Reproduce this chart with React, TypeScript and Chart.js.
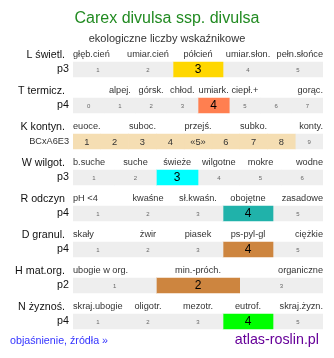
import React, { useEffect, useRef } from 'react';
import { Chart, registerables } from 'chart.js';

Chart.register(...registerables);

const TITLE = 'Carex divulsa ssp. divulsa';
const SUBTITLE = 'ekologiczne liczby wskaźnikowe';
const LINK_TEXT = 'objaśnienie, źródła »';
const SITE_TEXT = 'atlas-roslin.pl';

const rowNames = ['L świetl.', 'T termicz.', 'K kontyn.', 'W wilgot.', 'R odczyn', 'D granul.', 'H mat.org.', 'N żyznoś.'];
const rowValues = ['p3', 'p4', 'BCxA6E3', 'p3', 'p4', 'p4', 'p2', 'p4'];

const cellsL = ['1', '2', '3', '4', '5'];
const cellsT = ['0', '1', '2', '3', '4', '5', '6', '7'];
const cellsK = ['1', '2', '3', '4', '«5»', '6', '7', '8', '9'];
const cellsW = ['1', '2', '3', '4', '5', '6'];
const cellsR = ['1', '2', '3', '4', '5'];
const cellsD = ['1', '2', '3', '4', '5'];
const cellsH = ['1', '2', '3'];
const cellsN = ['1', '2', '3', '4', '5'];
const rowCells = [cellsL, cellsT, cellsK, cellsW, cellsR, cellsD, cellsH, cellsN];

// highlighted cell indices per row
const highlightL = [2];
const highlightT = [4];
const highlightK = [0, 1, 2, 3, 4, 5, 6, 7];
const highlightW = [2];
const highlightR = [3];
const highlightD = [3];
const highlightH = [1];
const highlightN = [3];
const rowHighlights = [highlightL, highlightT, highlightK, highlightW, highlightR, highlightD, highlightH, highlightN];

const rowColors = ['#FFD700', '#FF7F50', '#F5DEB3', '#00FFFF', '#20B2AA', '#CD853F', '#CD853F', '#00FF00'];

// category labels: [cell index, text]
const labelsL: [number, string][] = [[0, 'głęb.cień'], [1, 'umiar.cień'], [2, 'półcień'], [3, 'umiar.słon.'], [4, 'pełn.słońce']];
const labelsT: [number, string][] = [[1, 'alpej.'], [2, 'górsk.'], [3, 'chłod.'], [4, 'umiark.'], [5, 'ciepł.+'], [7, 'gorąc.']];
const labelsK: [number, string][] = [[0, 'euoce.'], [2, 'suboc.'], [4, 'przejś.'], [6, 'subko.'], [8, 'konty.']];
const labelsW: [number, string][] = [[0, 'b.suche'], [1, 'suche'], [2, 'świeże'], [3, 'wilgotne'], [4, 'mokre'], [5, 'wodne']];
const labelsR: [number, string][] = [[0, 'pH <4'], [1, 'kwaśne'], [2, 'sł.kwaśn.'], [3, 'obojętne'], [4, 'zasadowe']];
const labelsD: [number, string][] = [[0, 'skały'], [1, 'żwir'], [2, 'piasek'], [3, 'ps-pyl-gl'], [4, 'ciężkie']];
const labelsH: [number, string][] = [[0, 'ubogie w org.'], [1, 'min.-próch.'], [2, 'organiczne']];
const labelsN: [number, string][] = [[0, 'skraj.ubogie'], [1, 'oligotr.'], [2, 'mezotr.'], [3, 'eutrof.'], [4, 'skraj.żyzn.']];
const rowLabels = [labelsL, labelsT, labelsK, labelsW, labelsR, labelsD, labelsH, labelsN];

const FONT = '"Liberation Sans", Arial, sans-serif';
const GRAY = '#EEEEEE';

export default function App() {
  const ref = useRef<HTMLCanvasElement>(null);

  useEffect(() => {
    if (!ref.current) return;
    const maxCells = Math.max(...rowCells.map((c) => c.length));
    const datasets = [];
    for (let j = 0; j < maxCells; j++) {
      datasets.push({
        data: rowCells.map((cells) => (j < cells.length ? [j / cells.length, (j + 1) / cells.length] : null)),
        backgroundColor: rowCells.map((cells, i) => (rowHighlights[i].includes(j) ? rowColors[i] : GRAY)),
        borderWidth: 0,
        barThickness: 15,
        grouped: false,
      });
    }

    const textPlugin = {
      id: 'texts',
      afterDatasetsDraw(chart: any) {
        const ctx = chart.ctx;
        const xs = chart.scales.x;
        const ys = chart.scales.y;
        const left = xs.getPixelForValue(0);
        const right = xs.getPixelForValue(1);
        ctx.save();
        ctx.textBaseline = 'middle';
        // header
        ctx.textAlign = 'center';
        ctx.fillStyle = '#228B22';
        ctx.font = `16px ${FONT}`;
        ctx.fillText(TITLE, chart.width / 2, 19);
        ctx.fillStyle = '#333333';
        ctx.font = `11px ${FONT}`;
        ctx.fillText(SUBTITLE, chart.width / 2, 38.5);

        rowNames.forEach((name, i) => {
          const cy = ys.getPixelForValue(i);
          const top = cy - 7.5;
          const ly = top - 7.3;
          // row name
          ctx.textAlign = 'right';
          ctx.fillStyle = '#111111';
          ctx.font = `10.7px ${FONT}`;
          ctx.fillText(name, left - 8, ly);
          // value
          const v = rowValues[i];
          ctx.font = v.length > 3 ? `9.2px ${FONT}` : `10.7px ${FONT}`;
          ctx.fillStyle = v.length > 3 ? '#333333' : '#111111';
          ctx.fillText(v, left - 4, cy);
          // category labels
          const cells = rowCells[i];
          const n = cells.length;
          ctx.font = `9.2px ${FONT}`;
          ctx.fillStyle = '#333333';
          rowLabels[i].forEach(([idx, text]) => {
            if (idx === 0) {
              ctx.textAlign = 'left';
              ctx.fillText(text, left, ly);
            } else if (idx === n - 1) {
              ctx.textAlign = 'right';
              ctx.fillText(text, right, ly);
            } else {
              ctx.textAlign = 'center';
              ctx.fillText(text, xs.getPixelForValue((idx + 0.5) / n), ly);
            }
          });
          // cell numbers
          ctx.textAlign = 'center';
          const hl = rowHighlights[i];
          cells.forEach((c, j) => {
            const x = xs.getPixelForValue((j + 0.5) / n);
            if (hl.includes(j)) {
              if (hl.length > 1) {
                ctx.font = `9.3px ${FONT}`;
                ctx.fillStyle = '#333333';
              } else {
                ctx.font = `12px ${FONT}`;
                ctx.fillStyle = '#000000';
              }
            } else {
              ctx.font = `6px ${FONT}`;
              ctx.fillStyle = '#666666';
            }
            ctx.fillText(c, x, cy + 0.5);
          });
        });

        // footer
        ctx.textAlign = 'left';
        ctx.fillStyle = '#3333FF';
        ctx.font = `10.7px ${FONT}`;
        ctx.fillText(LINK_TEXT, 10, 341.5);
        ctx.textAlign = 'right';
        ctx.fillStyle = '#660099';
        ctx.font = `14.3px ${FONT}`;
        ctx.fillText(SITE_TEXT, 319, 340);
        ctx.restore();
      },
    };

    const chart = new Chart(ref.current, {
      type: 'bar',
      data: { labels: rowNames, datasets: datasets as any },
      options: {
        indexAxis: 'y',
        animation: false,
        responsive: false,
        events: [],
        layout: { padding: { top: 51.5, bottom: 18.5, left: 73, right: 11 } },
        plugins: { legend: { display: false }, title: { display: false }, tooltip: { enabled: false } },
        scales: {
          x: { type: 'linear', min: 0, max: 1, display: false },
          y: { type: 'category', display: false },
        },
      },
      plugins: [textPlugin],
    });
    return () => chart.destroy();
  }, []);

  return (
    <div style={{ position: 'absolute', left: 0, top: 0, width: 334, height: 358, background: '#ffffff' }}>
      <canvas ref={ref} width={334} height={358} />
    </div>
  );
}
